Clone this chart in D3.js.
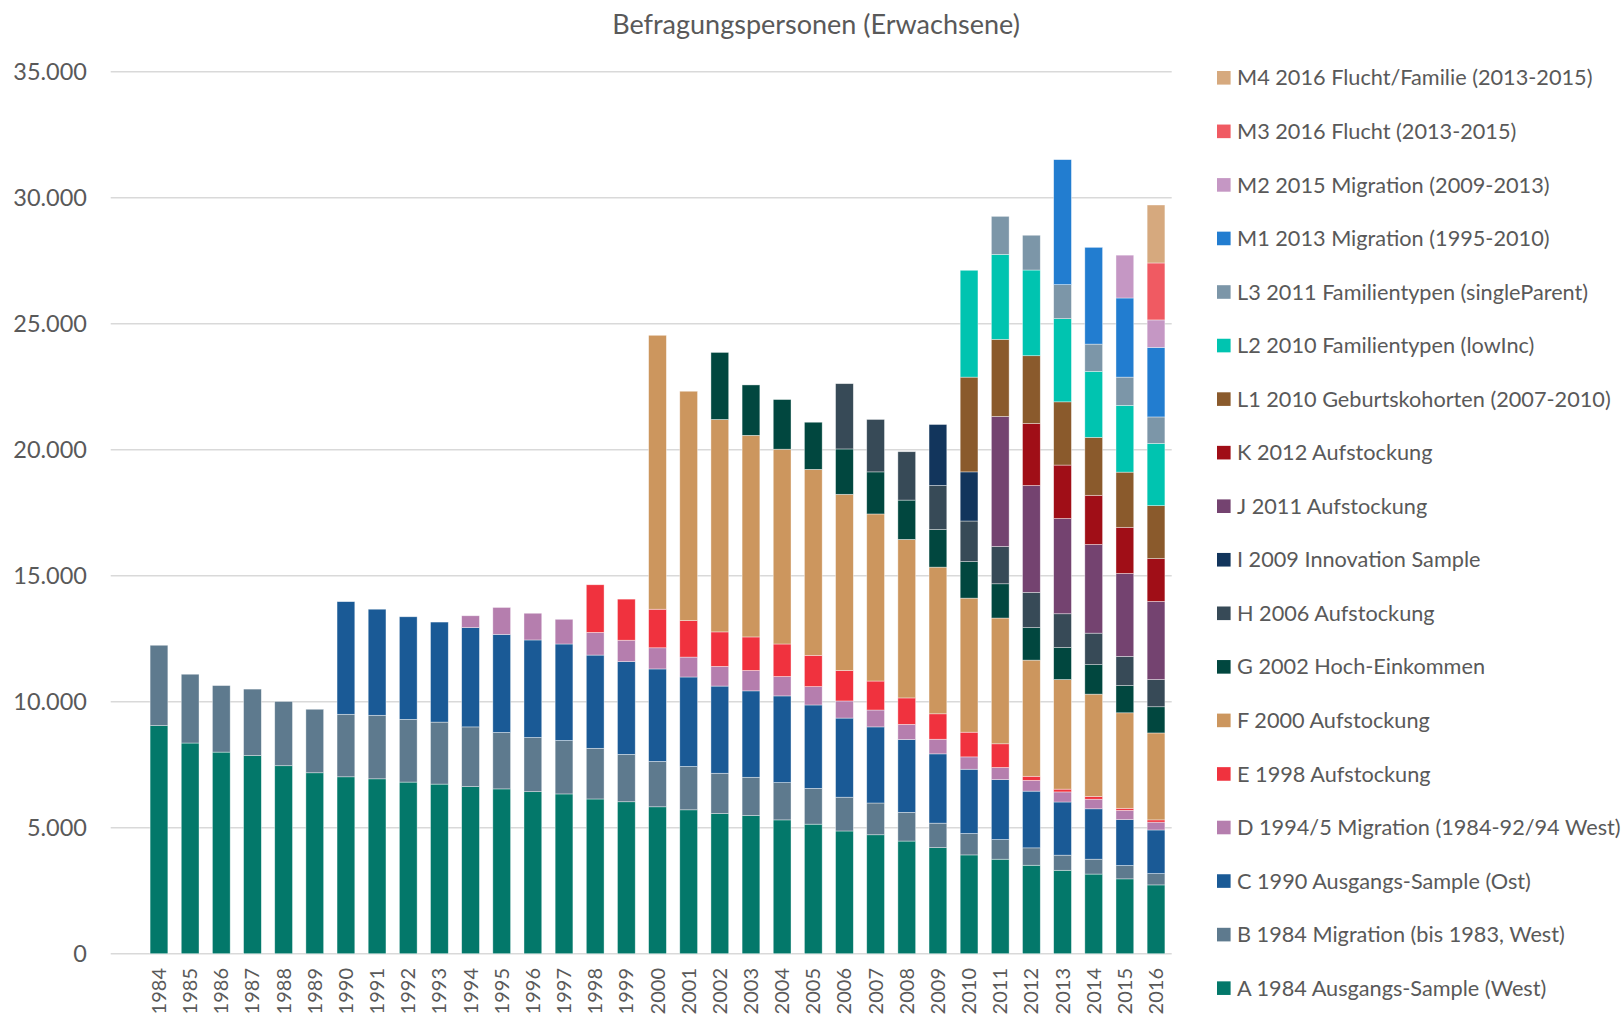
<!DOCTYPE html>
<html>
<head>
<meta charset="utf-8">
<script src="https://cdn.jsdelivr.net/npm/d3@7"></script>
<style>
  html, body { margin: 0; padding: 0; background: #fff; }
  svg text { font-family: Lato, "Open Sans", sans-serif; fill: #595959; }
</style>
</head>
<body>
<div id="chart-container"></div>
<script>
// ==== data ====
const years = ['1984','1985','1986','1987','1988','1989','1990','1991','1992','1993',
  '1994','1995','1996','1997','1998','1999','2000','2001','2002','2003',
  '2004','2005','2006','2007','2008','2009','2010','2011','2012','2013',
  '2014','2015','2016']

const yTicks = [0, 5000, 10000, 15000, 20000, 25000, 30000, 35000]

// series from bottom to top (one value per year)
const sA = [9050,8360,8000,7860,7460,7180,7020,6940,6810,6730, 6630,6540,6430,6340,6140,6030,5830,5710,5560,5480, 5310,5140,4870,4720,4470,4210,3920,3750,3510,3310, 3160,2970,2730]
const sB = [3190,2730,2640,2640,2550,2520,2480,2520,2490,2460, 2370,2240,2150,2120,2010,1880,1800,1720,1600,1520, 1480,1420,1340,1260,1140,970,850,780,690,600, 590,530,450]
const sC = [0,0,0,0,0,0,4470,4210,4070,3970, 3940,3890,3870,3830,3700,3680,3670,3550,3460,3430, 3440,3310,3140,3020,2890,2750,2550,2380,2250,2110, 2000,1820,1730]
const sD = [0,0,0,0,0,0,0,0,0,0, 470,1070,1060,980,900,850,840,790,780,810, 770,730,680,670,600,580,490,480,430,400, 380,370,310]
const sE = [0,0,0,0,0,0,0,0,0,0, 0,0,0,0,1890,1630,1530,1450,1370,1330, 1290,1240,1210,1150,1050,1010,980,940,160,110, 110,80,90]
const sF = [0,0,0,0,0,0,0,0,0,0, 0,0,0,0,0,0,10870,9100,8430,8000, 7730,7380,6990,6630,6290,5820,5320,4990,4610,4350, 4060,3790,3450]
const sG = [0,0,0,0,0,0,0,0,0,0, 0,0,0,0,0,0,0,0,2660,2000, 1970,1870,1800,1670,1560,1490,1450,1360,1290,1270, 1170,1080,1040]
const sH = [0,0,0,0,0,0,0,0,0,0, 0,0,0,0,0,0,0,0,0,0, 0,0,2590,2080,1920,1750,1610,1480,1400,1340, 1250,1160,1080]
const sI = [0,0,0,0,0,0,0,0,0,0, 0,0,0,0,0,0,0,0,0,0, 0,0,0,0,0,2420,1950,0,0,0, 0,0,0]
const sJ = [0,0,0,0,0,0,0,0,0,0, 0,0,0,0,0,0,0,0,0,0, 0,0,0,0,0,0,0,5160,4240,3780, 3520,3290,3100]
const sK = [0,0,0,0,0,0,0,0,0,0, 0,0,0,0,0,0,0,0,0,0, 0,0,0,0,0,0,0,0,2460,2120, 1950,1830,1700]
const sL1 = [0,0,0,0,0,0,0,0,0,0, 0,0,0,0,0,0,0,0,0,0, 0,0,0,0,0,0,3760,3060,2690,2510, 2300,2190,2100]
const sL2 = [0,0,0,0,0,0,0,0,0,0, 0,0,0,0,0,0,0,0,0,0, 0,0,0,0,0,0,4240,3370,3400,3300, 2620,2650,2470]
const sL3 = [0,0,0,0,0,0,0,0,0,0, 0,0,0,0,0,0,0,0,0,0, 0,0,0,0,0,0,0,1510,1380,1350, 1080,1120,1050]
const sM1 = [0,0,0,0,0,0,0,0,0,0, 0,0,0,0,0,0,0,0,0,0, 0,0,0,0,0,0,0,0,0,4960, 3840,3140,2760]
const sM2 = [0,0,0,0,0,0,0,0,0,0, 0,0,0,0,0,0,0,0,0,0, 0,0,0,0,0,0,0,0,0,0, 0,1700,1090]
const sM3 = [0,0,0,0,0,0,0,0,0,0, 0,0,0,0,0,0,0,0,0,0, 0,0,0,0,0,0,0,0,0,0, 0,0,2260]
const sM4 = [0,0,0,0,0,0,0,0,0,0, 0,0,0,0,0,0,0,0,0,0, 0,0,0,0,0,0,0,0,0,0, 0,0,2300]

const seriesNames = [
  'A 1984 Ausgangs-Sample (West)',
  'B 1984 Migration (bis 1983, West)',
  'C 1990 Ausgangs-Sample (Ost)',
  'D 1994/5 Migration (1984-92/94 West)',
  'E 1998 Aufstockung',
  'F 2000 Aufstockung',
  'G 2002 Hoch-Einkommen',
  'H 2006 Aufstockung',
  'I 2009 Innovation Sample',
  'J 2011 Aufstockung',
  'K 2012 Aufstockung',
  'L1 2010 Geburtskohorten (2007-2010)',
  'L2 2010 Familientypen (lowInc)',
  'L3 2011 Familientypen (singleParent)',
  'M1 2013 Migration (1995-2010)',
  'M2 2015 Migration (2009-2013)',
  'M3 2016 Flucht (2013-2015)',
  'M4 2016 Flucht/Familie (2013-2015)',
]
const seriesValues = [sA, sB, sC, sD, sE, sF, sG, sH, sI, sJ, sK, sL1, sL2, sL3, sM1, sM2, sM3, sM4]
const seriesColors = ['#03786a', '#5e7a8e', '#1a5a96', '#b57eae', '#f0323e', '#cc965e',
  '#01473f', '#374a57', '#12355c', '#744370', '#a00e17', '#8a5a2c', '#00c4b0',
  '#7c96a8', '#227dd0', '#c597c4', '#f05a62', '#d6a97e']

// ==== layout ====
const W = 1622, H = 1016
const svg = d3.select('#chart-container').append('svg')
  .attr('width', W).attr('height', H)

const rows = years.map((yr, i) => {
  const r = { year: yr }
  seriesNames.forEach((n, k) => { r[n] = seriesValues[k][i] })
  return r
})

const x = d3.scaleBand().domain(years).range([143.4, 1171.6]).paddingInner(0.43).paddingOuter(0.215)
const y = d3.scaleLinear().domain([0, 35000]).range([953.7, 71.7])

// title
svg.append('text')
  .attr('x', 816).attr('y', 34)
  .attr('text-anchor', 'middle')
  .attr('font-size', 27)
  .text('Befragungspersonen (Erwachsene)')

// gridlines + y labels
const fmt = d3.format(',')
svg.append('g').selectAll('line').data(yTicks).join('line')
  .attr('x1', 110.7).attr('x2', 1171.7)
  .attr('y1', d => y(d)).attr('y2', d => y(d))
  .attr('stroke', '#d9d9d9').attr('stroke-width', 1.5)

svg.append('g').selectAll('text').data(yTicks).join('text')
  .attr('x', 87).attr('y', d => y(d))
  .attr('dy', '0.35em')
  .attr('text-anchor', 'end')
  .attr('font-size', 23.5)
  .text(d => fmt(d).replace(/,/g, '.'))

// stacked bars
const stacked = d3.stack().keys(seriesNames)(rows)
svg.append('g').selectAll('g').data(stacked).join('g')
  .attr('fill', (d, i) => seriesColors[i])
  .selectAll('rect').data(d => d.filter(p => p[1] - p[0] > 0)).join('rect')
  .attr('x', d => x(d.data.year))
  .attr('width', x.bandwidth())
  .attr('y', d => y(d[1]))
  .attr('height', d => y(d[0]) - y(d[1]))
  .attr('stroke', '#ffffff').attr('stroke-width', 0.7).attr('stroke-opacity', 0.55)

// x labels (rotated)
svg.append('g').selectAll('text').data(years).join('text')
  .attr('transform', d => `translate(${x(d) + x.bandwidth() / 2},968) rotate(-90)`)
  .attr('dy', '0.35em')
  .attr('text-anchor', 'end')
  .attr('font-size', 20)
  .text(d => d)

// legend (top = last series)
const legend = svg.append('g')
const legendItems = seriesNames.map((n, i) => ({ name: n, color: seriesColors[i] })).reverse()
const item = legend.selectAll('g').data(legendItems).join('g')
  .attr('transform', (d, i) => `translate(1217,${77.8 + i * 53.55})`)
item.append('rect')
  .attr('x', 0).attr('y', -6.8).attr('width', 13.6).attr('height', 13.6)
  .attr('fill', d => d.color)
item.append('text')
  .attr('x', 20).attr('dy', '0.35em')
  .attr('font-size', 21.7)
  .text(d => d.name)
</script>
</body>
</html>
